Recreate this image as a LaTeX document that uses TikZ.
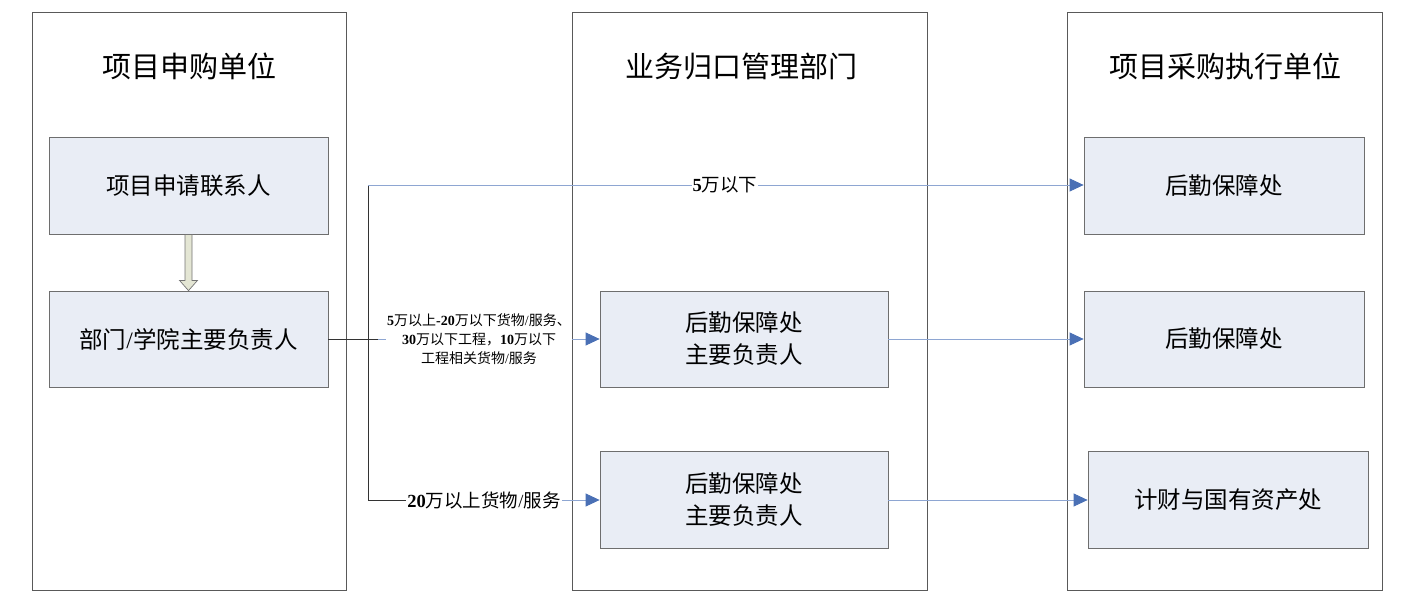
\documentclass[tikz,border=0pt]{standalone}
\usepackage{fontspec}
\setmainfont{Noto Sans CJK SC}
\newfontfamily\tnr{Liberation Serif}
\usetikzlibrary{arrows.meta,calc}
\newcommand\nb[1]{{\tnr\bfseries #1}}
\newcommand\slsh{{\tnr /}}
\definecolor{boxfill}{HTML}{E9EDF5}
\definecolor{boxline}{HTML}{6E6E6E}
\definecolor{linkblue}{HTML}{8EA6D2}
\definecolor{tipblue}{HTML}{4A70B5}
\definecolor{arrfill}{HTML}{E4E6D4}
\begin{document}
\begin{tikzpicture}[x=1pt,y=-1pt,
  colbox/.style={draw=black!65, line width=0.8pt, inner sep=0pt},
  title/.style={font=\fontsize{29}{32}\selectfont, inner sep=0pt},
  unitbox/.style={draw=boxline, fill=boxfill, line width=0.8pt, inner sep=0pt,
    align=center, font=\fontsize{23.5}{32}\selectfont},
  trunk/.style={draw=black!80, line width=0.7pt},
  link/.style={draw=linkblue, line width=0.8pt},
  linkarr/.style={link, -{Triangle[length=14pt,width=13pt,color=tipblue]}},
  lbl/.style={fill=white, inner sep=1pt, align=center},
  blockarr/.style={draw=black!55, fill=arrfill, line width=0.7pt, line join=miter}
]
\useasboundingbox (0,0) rectangle (1420,604);
% columns
\node[colbox, minimum width=314pt, minimum height=578pt] (c1) at (189,301) {};
\node[colbox, minimum width=355pt, minimum height=578pt] (c2) at (749.5,301) {};
\node[colbox, minimum width=315pt, minimum height=578pt] (c3) at (1224.5,301) {};
\node[title] (t1t) at (189,66) {项目申购单位};
\node[title] (t2t) at (741,66) {业务归口管理部门};
\node[title] (t3t) at (1225,66) {项目采购执行单位};
% boxes
\node[unitbox, minimum width=279pt, minimum height=97pt] (b1) at (188.5,185.5) {项目申请联系人};
\node[unitbox, minimum width=279pt, minimum height=96pt] (b2) at (188.5,339) {部门\slsh 学院主要负责人};
\node[unitbox, minimum width=288pt, minimum height=96pt] (m1) at (744,339) {后勤保障处\\主要负责人};
\node[unitbox, minimum width=288pt, minimum height=97pt] (m2) at (744,499.5) {后勤保障处\\主要负责人};
\node[unitbox, minimum width=280pt, minimum height=97pt] (r1) at (1224,185.5) {后勤保障处};
\node[unitbox, minimum width=280pt, minimum height=96pt] (r2) at (1224,339) {后勤保障处};
\node[unitbox, minimum width=280pt, minimum height=97pt] (r3) at (1228,499.5) {计财与国有资产处};
% block arrow
\draw[blockarr] ($(b1.south)+(-3.5,0)$) -- ++(0,46) -- ++(-5.5,0) -- (b2.north)
  -- ($(b1.south)+(9,46)$) -- ++(-5.5,0) -- ($(b1.south)+(3.5,0)$) -- cycle;
% trunk
\coordinate (k1) at (368,185);
\coordinate (k2) at (368,339);
\coordinate (k3) at (368,500);
\draw[trunk] (b2.east) -- (k2);
\draw[trunk] (k1) -- (k3);
% branches
\draw[linkarr] (k1) -- (k1 -| r1.west);
\node[lbl, font=\fontsize{18.5}{22}\selectfont] (l1) at (725,185) {\nb{5}万以下};
\draw[linkarr] (k2) -- (m1.west);
\draw[trunk] (k2) -- (378,339);
\node[lbl, font=\fontsize{14}{19}\selectfont] (l2) at (479,339)
  {\nb{5}万以上\nb{-20}万以下货物\slsh 服务、\\\nb{30}万以下工程，\nb{10}万以下\\工程相关货物\slsh 服务};
\draw[linkarr] (k3) -- (k3 -| m2.west);
\node[lbl, font=\fontsize{18.5}{22}\selectfont] (l3) at (484,500) {\nb{20}万以上货物\slsh 服务};
\draw[trunk] (k3) -- (l3.west);
\draw[linkarr] (m1.east) -- (r2.west);
\draw[linkarr] (m2.east |- k3) -- (r3.west |- k3);
\end{tikzpicture}
\end{document}
